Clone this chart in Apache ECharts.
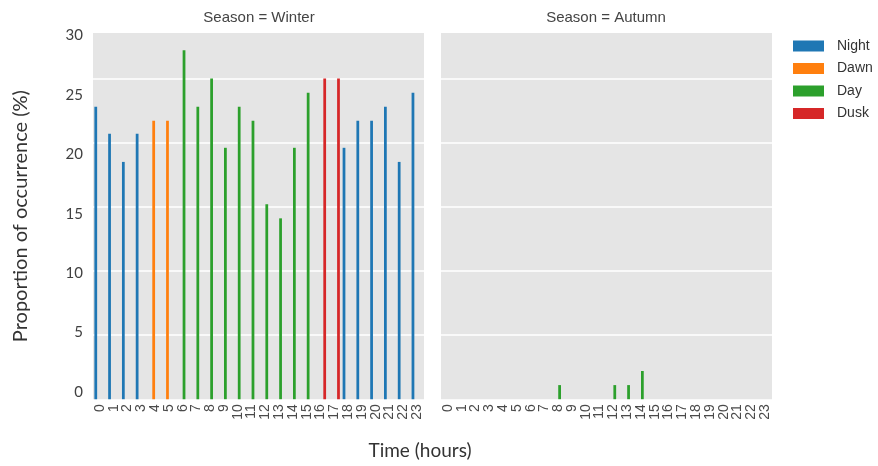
<!DOCTYPE html>
<html>
<head>
<meta charset="utf-8">
<script src="https://cdn.jsdelivr.net/npm/echarts@6/dist/echarts.min.js"></script>
<style>
  html, body { margin: 0; padding: 0; background: #ffffff; }
  #chart { width: 878px; height: 466px; }
</style>
</head>
<body>
<div id="chart"></div>
<script>
// Hour of day (x categories)
const hours = ['0','1','2','3','4','5','6','7','8','9','10','11','12','13','14','15','16','17','18','19','20','21','22','23'];

// Period of day each hour belongs to (hue)
const periods = ['Night','Night','Night','Night','Dawn','Dawn',
  'Day','Day','Day','Day','Day','Day','Day','Day','Day','Day',
  'Dusk','Dusk','Night','Night','Night','Night','Night','Night'];

const periodNames = ['Night', 'Dawn', 'Day', 'Dusk'];
const periodColors = ['#1f77b4', '#ff7f0e', '#2ca02c', '#d62728'];

// Proportion of occurrence (%) per hour
const winterValues = [22.8, 20.7, 18.5, 20.7, 21.7, 21.7, 27.2, 22.8, 25.0, 19.6, 22.8, 21.7,
  15.2, 14.1, 19.6, 23.9, 25.0, 25.0, 19.6, 21.7, 21.7, 22.8, 18.5, 23.9];
const autumnValues = [0, 0, 0, 0, 0, 0, 0, 0, 1.1, 0, 0, 0,
  1.1, 1.1, 2.2, 0, 0, 0, 0, 0, 0, 0, 0, 0];

// Labels printed along the left value axis
const yTickLabels = [0, 5, 10, 15, 20, 25, 30];

const facetTitles = ['Season = Winter', 'Season = Autumn'];

const PLOT_BG = '#e5e5e5';
const TEXT_FONT = 'Liberation Sans, Arial, sans-serif';
const TITLE_FONT = 'Lato, Open Sans, sans-serif';

// one series per period; hours outside the period stay empty
function seriesFor(values, gridIdx, yIdx) {
  return periodNames.map((name, k) => ({
    type: 'bar',
    name: name,
    xAxisIndex: gridIdx,
    yAxisIndex: yIdx,
    barGap: '0%',
    barCategoryGap: '20%',
    itemStyle: { color: periodColors[k] },
    data: values.map((v, i) => periods[i] === name ? v : null),
    animation: false
  }));
}

const dataMax = 28.55;

const grids = [
  { left: 93, width: 331, top: 33, bottom: 66.8, show: true, backgroundColor: PLOT_BG, borderWidth: 0 },
  { left: 441, width: 331, top: 33, bottom: 66.8, show: true, backgroundColor: PLOT_BG, borderWidth: 0 }
];

const xAxes = [0, 1].map(g => ({
  type: 'category',
  gridIndex: g,
  data: hours,
  axisLine: { show: false },
  axisTick: { show: false },
  axisLabel: {
    rotate: 90,
    interval: 0,
    fontFamily: TEXT_FONT,
    fontSize: 14,
    color: '#4a4a4a',
    margin: 5,
    padding: [0, 0, 5, 0]
  }
}));

const valueAxisBase = {
  type: 'value',
  min: 0,
  max: dataMax,
  interval: 5,
  axisLine: { show: false },
  axisTick: { show: false },
  axisLabel: { show: false },
  splitLine: {
    show: true,
    showMinLine: false,
    showMaxLine: false,
    lineStyle: { color: '#ffffff', width: 1.6 }
  }
};

const yAxes = [
  Object.assign({ gridIndex: 0 }, valueAxisBase),
  {
    // printed scale on the left of the first panel
    type: 'value',
    gridIndex: 0,
    position: 'left',
    min: -0.6,
    max: 30.2,
    axisLine: { show: false },
    axisTick: { show: false },
    splitLine: { show: false },
    axisLabel: {
      customValues: yTickLabels,
      fontFamily: TITLE_FONT,
      fontSize: 15,
      color: '#404040',
      margin: 10
    },
    name: 'Proportion of occurrence (%)',
    nameLocation: 'middle',
    nameRotate: 90,
    nameGap: 62,
    nameTextStyle: { fontFamily: TITLE_FONT, fontSize: 20, color: '#333333' }
  },
  Object.assign({ gridIndex: 1 }, valueAxisBase)
];

const option = {
  animation: false,
  backgroundColor: '#ffffff',
  title: [
    { text: facetTitles[0], left: 259, top: 10, textAlign: 'center', padding: 0,
      textStyle: { fontFamily: TEXT_FONT, fontSize: 15, fontWeight: 'normal', color: '#444444' } },
    { text: facetTitles[1], left: 606, top: 10, textAlign: 'center', padding: 0,
      textStyle: { fontFamily: TEXT_FONT, fontSize: 15, fontWeight: 'normal', color: '#444444' } },
    { text: 'Time (hours)', left: 420, top: 441, textAlign: 'center', padding: 0,
      textStyle: { fontFamily: TITLE_FONT, fontSize: 19, fontWeight: 'normal', color: '#333333' } }
  ],
  legend: {
    data: periodNames,
    orient: 'vertical',
    left: 793,
    top: 39,
    padding: 0,
    icon: 'rect',
    itemWidth: 31,
    itemHeight: 11,
    itemGap: 8.5,
    textStyle: { fontFamily: TEXT_FONT, fontSize: 14, color: '#333333', lineHeight: 14, padding: [0, 0, 0, 8] }
  },
  grid: grids,
  xAxis: xAxes,
  yAxis: yAxes,
  series: [].concat(seriesFor(winterValues, 0, 0), seriesFor(autumnValues, 1, 2))
};

const chart = echarts.init(document.getElementById('chart'), null, { renderer: 'canvas' });
chart.setOption(option);
</script>
</body>
</html>
